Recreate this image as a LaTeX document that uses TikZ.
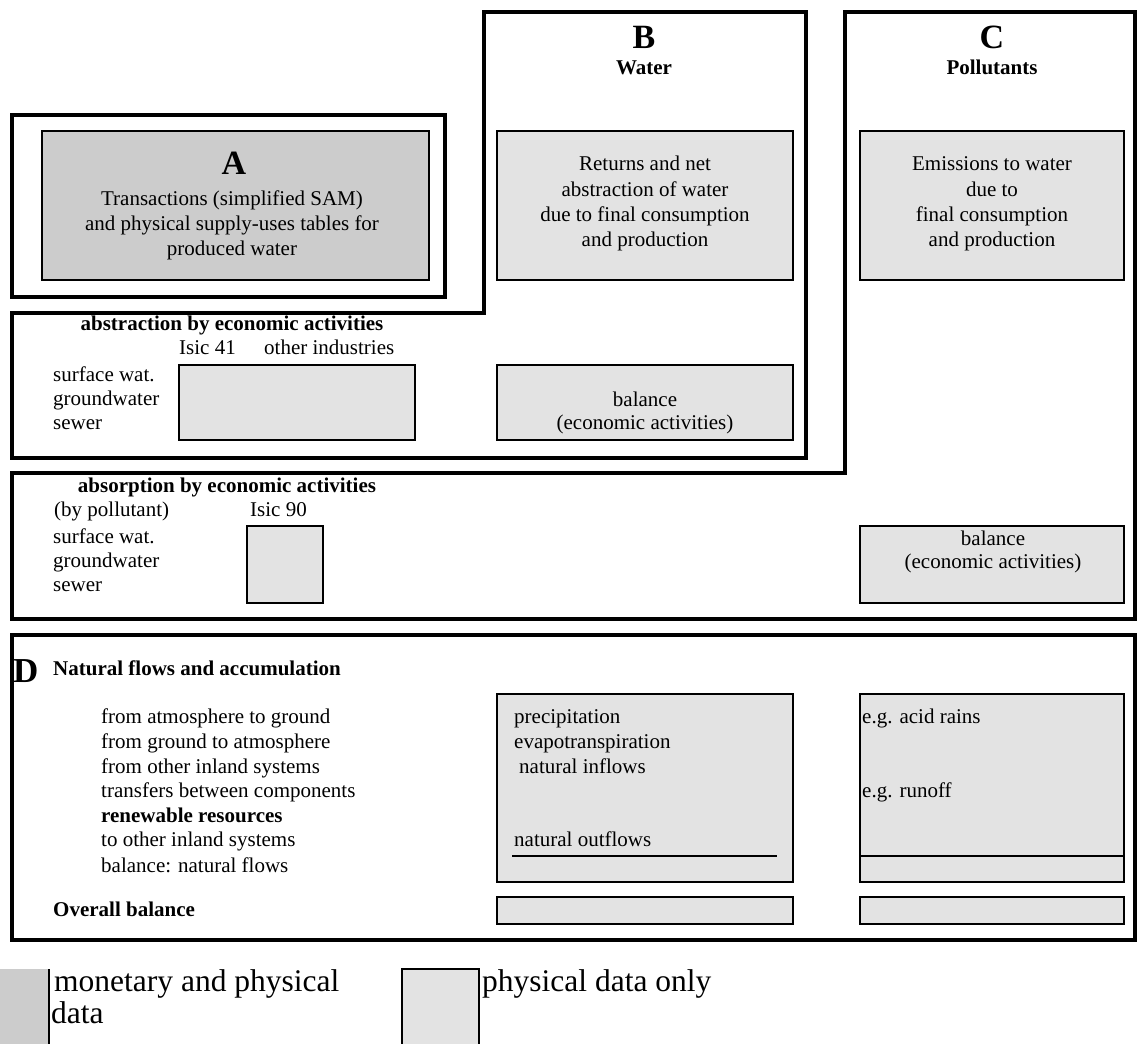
\documentclass[tikz,border=0pt]{standalone}
\usepackage{fontspec}
\setmainfont{Liberation Serif}
\definecolor{darkfill}{HTML}{CCCCCC}
\definecolor{lightfill}{HTML}{E3E3E3}
\tikzset{
  frame/.style={line width=4pt, line join=miter},
  boxA/.style={draw, line width=2pt, fill=darkfill},
  boxL/.style={draw, line width=1.8pt, fill=lightfill},
  sepline/.style={line width=1.2pt},
  txt/.style={inner sep=0pt, text height=0.72em, text depth=0.22em, font=\fontsize{21}{25}\selectfont},
  btxt/.style={txt, font=\fontsize{21}{25}\selectfont\bfseries},
  big/.style={inner sep=0pt, font=\fontsize{34}{34}\selectfont\bfseries},
  leg/.style={txt, font=\fontsize{31.5}{32}\selectfont},
}
\begin{document}
\begin{tikzpicture}[x=1pt,y=-1pt]
\useasboundingbox (0,0) rectangle (1138,1044);

% ---------- frames ----------
\draw[frame] (12,115) rectangle (445,297);
\draw[frame] (12,313) -- (484,313) -- (484,12) -- (806,12) -- (806,458) -- (12,458) -- cycle;
\draw[frame] (12,473) -- (845,473) -- (845,12) -- (1135,12) -- (1135,619) -- (12,619) -- cycle;
\draw[frame] (12,635) rectangle (1135,940);

% ---------- A ----------
\path[boxA] (42,131) rectangle (429,280);
\node[big] (Aletter) at (234,163) {A};
\node[txt] (A1) at (232,203) {Transactions (simplified SAM)};
\node[txt] (A2) at (232,228) {and physical supply-uses tables for};
\node[txt] (A3) at (232,253) {produced water};

% ---------- B ----------
\node[big] (Bletter) at (644,37) {B};
\node[btxt] (Bname) at (644,72) {Water};
\path[boxL] (497,131) rectangle (793,280);
\node[txt] (B1) at (645,168) {Returns and net};
\node[txt] (B2) at (645,194) {abstraction of water};
\node[txt] (B3) at (645,219) {due to final consumption};
\node[txt] (B4) at (645,244) {and production};

% ---------- C ----------
\node[big] (Cletter) at (992,37) {C};
\node[btxt] (Cname) at (992,72) {Pollutants};
\path[boxL] (860,131) rectangle (1124,280);
\node[txt] (C1) at (992,168) {Emissions to water};
\node[txt] (C2) at (992,194) {due to};
\node[txt] (C3) at (992,219) {final consumption};
\node[txt] (C4) at (992,244) {and production};

% ---------- abstraction ----------
\node[btxt] (abstitle) at (232,328) {abstraction by economic activities};
\node[txt, anchor=west] (isic41) at (179,352) {Isic 41};
\node[txt, anchor=west] (otherind) at (264,352) {other industries};
\node[txt, anchor=west] (abs1) at (53,379) {surface wat.};
\node[txt, anchor=west] (abs2) at (53,403) {groundwater};
\node[txt, anchor=west] (abs3) at (53,427) {sewer};
\path[boxL] (179,365) rectangle (415,440);
\path[boxL] (497,365) rectangle (793,440);
\node[txt] (balB1) at (645,404) {balance};
\node[txt] (balB2) at (645,427) {(economic activities)};

% ---------- absorption ----------
\node[btxt] (absotitle) at (227,490) {absorption by economic activities};
\node[txt, anchor=west] (bypoll) at (54,514) {(by pollutant)};
\node[txt, anchor=west] (isic90) at (250,514) {Isic 90};
\node[txt, anchor=west] (abso1) at (53,541) {surface wat.};
\node[txt, anchor=west] (abso2) at (53,565) {groundwater};
\node[txt, anchor=west] (abso3) at (53,589) {sewer};
\path[boxL] (247,526) rectangle (323,603);
\path[boxL] (860,526) rectangle (1124,603);
\node[txt] (balC1) at (993,543) {balance};
\node[txt] (balC2) at (993,566) {(economic activities)};

% ---------- D ----------
\node[inner sep=0pt, anchor=west, font=\fontsize{35}{35}\selectfont\bfseries] (Dletter) at (13,671) {D};
\node[btxt, anchor=west] (Dtitle) at (53,673) {Natural flows and accumulation};
\node[txt, anchor=west] (D1) at (101,721) {from atmosphere to ground};
\node[txt, anchor=west] (D2) at (101,746) {from ground to atmosphere};
\node[txt, anchor=west] (D3) at (101,771) {from other inland systems};
\node[txt, anchor=west] (D4) at (101,795) {transfers between components};
\node[btxt, anchor=west] (D5) at (101,820) {renewable resources};
\node[txt, anchor=west] (D6) at (101,844) {to other inland systems};
\node[txt, anchor=west] (D7) at (101,870) {balance: natural flows};
\node[btxt, anchor=west] (Dover) at (53,914) {Overall balance};

\path[boxL] (497,694) rectangle (793,882);
\draw[sepline] (512,856) -- (777,856);
\node[txt, anchor=west] (DB1) at (514,721) {precipitation};
\node[txt, anchor=west] (DB2) at (514,746) {evapotranspiration};
\node[txt, anchor=west] (DB3) at (519,771) {natural inflows};
\node[txt, anchor=west] (DB4) at (514,844) {natural outflows};

\path[boxL] (860,694) rectangle (1124,882);
\draw[sepline] (860,856) -- (1124,856);
\node[txt, anchor=west] (DC1) at (862,721) {e.g. acid rains};
\node[txt, anchor=west] (DC2) at (862,795) {e.g. runoff};

\path[boxL] (497,897) rectangle (793,924);
\path[boxL] (860,897) rectangle (1124,924);

% ---------- legend ----------
\fill[darkfill] (0,969) rectangle (49,1044);
\draw[line width=2pt] (49,969) -- (49,1044);
\node[leg, anchor=west] (leg1a) at (54,989) {monetary and physical};
\node[leg, anchor=west] (leg1b) at (51,1021) {data};
\fill[lightfill] (402,969) rectangle (479,1044);
\draw[line width=2pt] (402,1044) -- (402,969) -- (479,969) -- (479,1044);
\node[leg, anchor=west] (leg2) at (482,989) {physical data only};
\end{tikzpicture}
\end{document}
